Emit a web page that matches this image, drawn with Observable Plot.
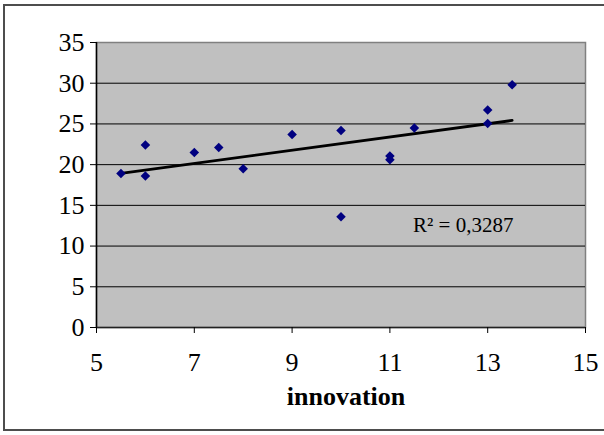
<!DOCTYPE html>
<html>
<head>
<meta charset="utf-8">
<script src="https://cdn.jsdelivr.net/npm/d3@7"></script>
<script src="https://cdn.jsdelivr.net/npm/@observablehq/plot@0.6"></script>
<style>
  html, body { margin: 0; padding: 0; background: #fff; overflow: hidden; }
  #wrap { position: relative; width: 604px; height: 435px; }
  #border { position: absolute; left: 3px; top: 4px; width: 620px; height: 427px; border: 2px solid #4d4d4d; box-sizing: border-box; pointer-events: none; }
  #chart { position: absolute; left: 0; top: 0; }
</style>
</head>
<body>
<div id="wrap"><div id="chart"></div><div id="border"></div></div>
<script>
// Data
const innovation = [5.5, 6, 6, 7, 7.5, 8, 9, 10, 10, 11, 11, 11.5, 13, 13, 13.5];
const outcome    = [18.9, 22.4, 18.6, 21.5, 22.1, 19.5, 23.7, 24.2, 13.6, 21.05, 20.6, 24.5, 26.7, 25.05, 29.8];
const xTicks = [5, 7, 9, 11, 13, 15];
const yTicks = [0, 5, 10, 15, 20, 25, 30, 35];
const gridLines = [5, 10, 15, 20, 25, 30];
const xTitle = "innovation";
const r2Label = "R\u00B2 = 0,3287";
const r2At = {x: 12.5, y: 12.6};

const data = innovation.map((x, i) => ({x, y: outcome[i]}));

const serif = "'Liberation Serif', 'Times New Roman', serif";

const chart = Plot.plot({
  width: 604,
  height: 435,
  marginLeft: 96,
  marginRight: 19,
  marginTop: 42,
  marginBottom: 108,
  style: {fontFamily: serif, fontSize: "26px", color: "black", background: "transparent"},
  x: {domain: [5, 15], ticks: xTicks},
  y: {domain: [0, 35], ticks: yTicks},
  marks: [
    Plot.frame({fill: "#c0c0c0", stroke: "#808080", strokeWidth: 1.5}),
    Plot.ruleY(gridLines, {stroke: "black", strokeWidth: 1}),
    Plot.ruleX([5], {stroke: "black", strokeWidth: 1.5}),
    Plot.ruleY([0], {stroke: "#222", strokeWidth: 1.5}),
    Plot.axisX({ticks: xTicks, tickSize: 6, tickPadding: 19, label: null, fontSize: 26}),
    Plot.axisY({ticks: yTicks, tickSize: 6, tickPadding: 6, label: null, fontSize: 26}),
    Plot.linearRegressionY(data, {x: "x", y: "y", stroke: "black", strokeWidth: 2.8, ci: 0}),
    Plot.dot(data, {x: "x", y: "y", symbol: "diamond2", r: 4.3, fill: "#000080", stroke: "none"}),
    Plot.text([r2Label], {x: () => r2At.x, y: () => r2At.y, text: d => d, fontSize: 21, fill: "black"}),
    Plot.text([xTitle], {frameAnchor: "bottom", text: d => d, dy: 77, dx: 5, fontSize: 26, fontWeight: "bold", fill: "black"})
  ]
});
document.getElementById("chart").appendChild(chart);
</script>
</body>
</html>
